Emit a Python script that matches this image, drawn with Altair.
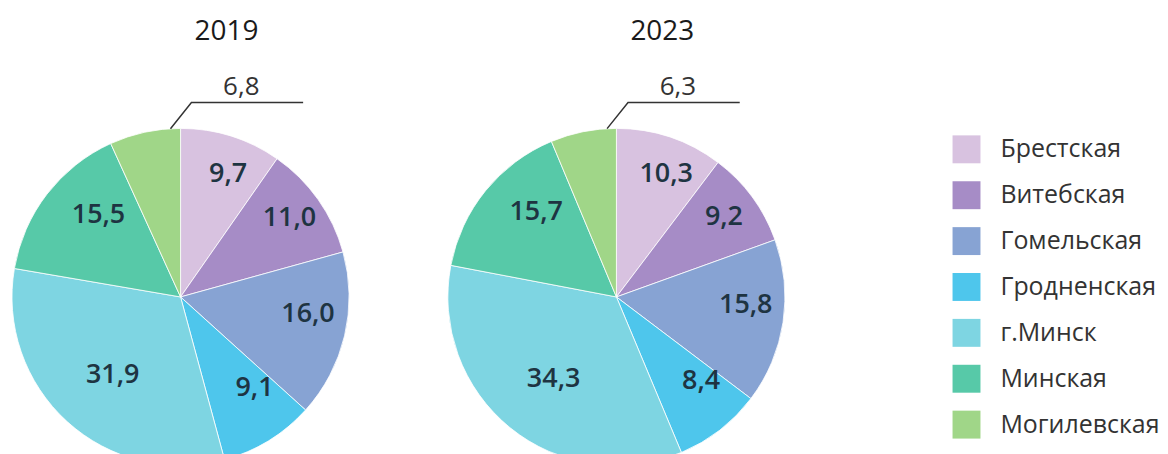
import math
import altair as alt
import pandas as pd

regions = ["Брестская", "Витебская", "Гомельская", "Гродненская", "г.Минск", "Минская", "Могилевская"]
colors = ["#D8C2E0", "#A68CC6", "#87A3D3", "#4EC6EC", "#7ED5E2", "#57C9A8", "#A0D688"]
years = ["2019", "2023"]
values_2019 = [9.7, 11.0, 16.0, 9.1, 31.9, 15.5, 6.8]
values_2023 = [10.3, 9.2, 15.8, 8.4, 34.3, 15.7, 6.3]

W, H = 346, 500
R = 169
LABEL_R = 119
FONT = "Open Sans"


def fmt(v):
    return f"{v:.1f}".replace(".", ",")


def panel(year, values):
    inside = [("" if v < 7 else fmt(v)) for v in values]
    df = pd.DataFrame({
        "region": regions,
        "value": values,
        "order": list(range(len(regions))),
        "label": inside,
    })
    base = alt.Chart(df).encode(
        theta=alt.Theta("value:Q", stack=True),
        order=alt.Order("order:Q"),
    )
    arcs = base.mark_arc(radius=R, stroke="white", strokeWidth=0.8).encode(
        color=alt.Color(
            "region:N",
            scale=alt.Scale(domain=regions, range=colors),
            legend=alt.Legend(
                title=None,
                orient="none",
                legendX=947,
                legendY=88,
                symbolType="square",
                symbolSize=784,
                symbolStrokeWidth=0,
                symbolOpacity=1,
                labelFontSize=25,
                labelFont=FONT,
                labelColor="#333333",
                labelOffset=20,
                rowPadding=18,
                padding=0,
            ),
        )
    )
    texts = base.mark_text(
        radius=LABEL_R, dx=12, dy=-10, fontSize=27, fontWeight=600, font=FONT, color="#1e3442"
    ).encode(text="label:N")

    # leader line for the small outside slice (last one)
    total = sum(values)
    a0 = 2 * math.pi * sum(values[:-1]) / total
    a1 = 2 * math.pi
    a = a0 + 0.86 * (a1 - a0)
    cx, cy = W / 2, H / 2
    p0 = (cx + R * math.sin(a), cy - R * math.cos(a))
    elbow = (p0[0] + 21, cy - R - 26)
    end = (elbow[0] + 112, elbow[1])
    ldf = pd.DataFrame({"x": [p0[0], elbow[0], end[0]], "y": [p0[1], elbow[1], end[1]], "o": [0, 1, 2]})
    leader = alt.Chart(ldf).mark_line(color="#333333", strokeWidth=1.5).encode(
        x=alt.X("x:Q", scale=None, axis=None),
        y=alt.Y("y:Q", scale=None, axis=None),
        order="o:Q",
    )
    tdf = pd.DataFrame({"x": [elbow[0] + 50], "y": [elbow[1] - 7], "t": [fmt(values[-1])]})
    outside = alt.Chart(tdf).mark_text(fontSize=26, font=FONT, color="#333333", baseline="alphabetic").encode(
        x=alt.X("x:Q", scale=None, axis=None),
        y=alt.Y("y:Q", scale=None, axis=None),
        text="t:N",
    )
    return alt.layer(arcs, texts, leader, outside).properties(
        width=W,
        height=H,
        title=alt.TitleParams(year, fontSize=28, font=FONT, color="#1a1a1a", fontWeight="normal", dx=46, offset=2),
    )


chart = alt.hconcat(
    panel(years[0], values_2019), panel(years[1], values_2023), spacing=91
).properties(
    padding={"left": 0, "top": 9, "right": 0, "bottom": 0},
    background="white",
).configure_view(strokeWidth=0, stroke="transparent")

chart.save("out.html", embed_options={"renderer": "svg", "actions": False})
